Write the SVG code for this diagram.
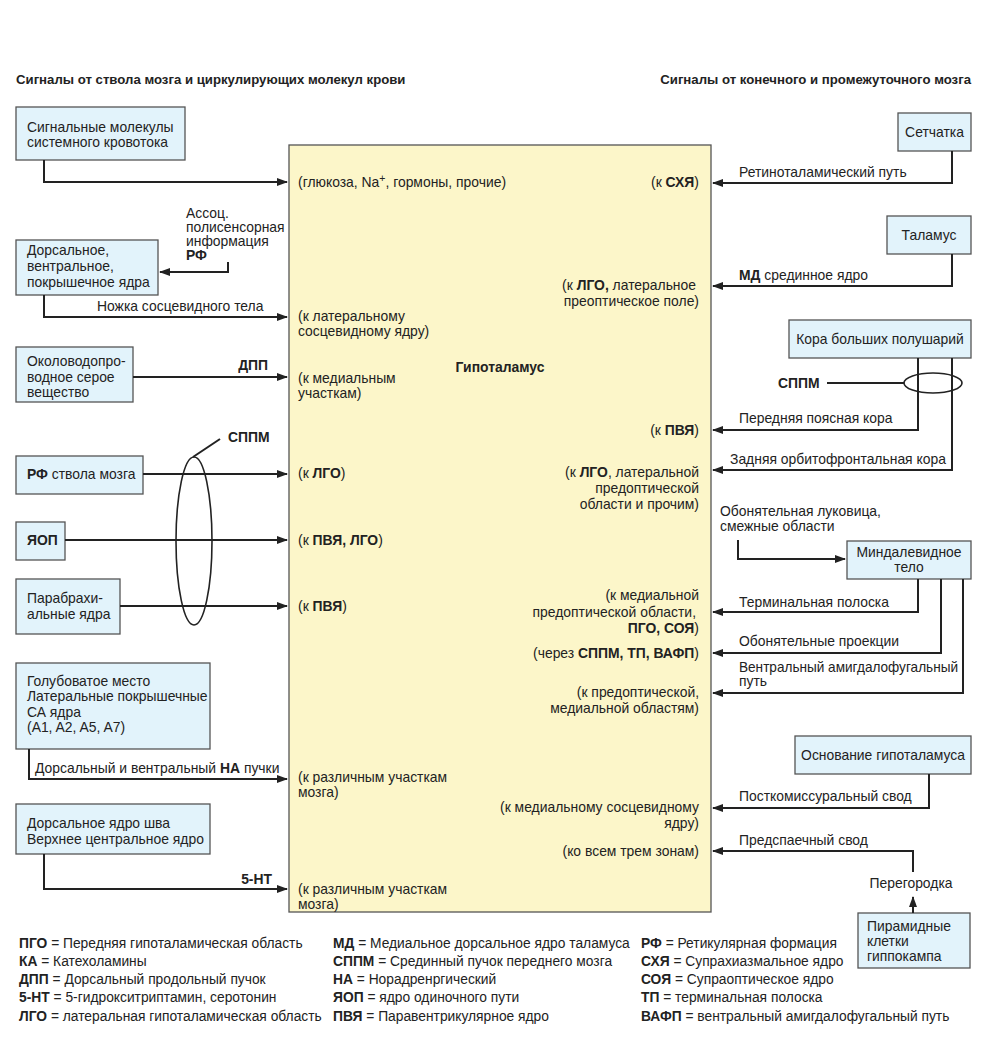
<svg xmlns="http://www.w3.org/2000/svg" width="990" height="1054" viewBox="0 0 990 1054">
<style>
text{font-family:"Liberation Sans","DejaVu Sans",sans-serif;font-size:13.9px;fill:#222}
.b{font-weight:bold}
.h{font-weight:bold;font-size:13.2px}
.e{text-anchor:end}
.m{text-anchor:middle}
.lg{font-size:13.8px}
.box{fill:#e2f3fb;stroke:#555;stroke-width:1.3}
.hyp{fill:#fcf6c9;stroke:#555;stroke-width:1.3}
.c{fill:none;stroke:#222;stroke-width:2}
.ca{fill:none;stroke:#222;stroke-width:2;marker-end:url(#ar)}
.ell{fill:none;stroke:#222;stroke-width:1.6}
</style>
<defs>
<marker id="ar" markerUnits="userSpaceOnUse" markerWidth="11" markerHeight="8" refX="10" refY="4" orient="auto">
<path d="M0,0 L11,4 L0,8 z" fill="#222"/>
</marker>
</defs>
<rect width="990" height="1054" fill="#fff"/>

<text class="h" x="16" y="84">Сигналы от ствола мозга и циркулирующих молекул крови</text>
<text class="h e" x="971" y="84">Сигналы от конечного и промежуточного мозга</text>

<g id="hypothalamus">
<rect class="hyp" x="289" y="145" width="422" height="767"/>
<text class="b m" x="500" y="372">Гипоталамус</text>
<text x="298" y="187">(глюкоза, Na<tspan dy="-5" font-size="10.5">+</tspan><tspan dy="5">, гормоны, прочие)</tspan></text>
<text x="298" y="321">(к латеральному</text>
<text x="298" y="336">сосцевидному ядру)</text>
<text x="298" y="383">(к медиальным</text>
<text x="298" y="398">участкам)</text>
<text x="298" y="478">(к <tspan class="b">ЛГО</tspan>)</text>
<text x="298" y="545">(к <tspan class="b">ПВЯ, ЛГО</tspan>)</text>
<text x="298" y="611">(к <tspan class="b">ПВЯ</tspan>)</text>
<text x="298" y="782">(к различным участкам</text>
<text x="298" y="797">мозга)</text>
<text x="298" y="894">(к различным участкам</text>
<text x="298" y="909">мозга)</text>
<text class="e" x="699" y="187">(к <tspan class="b">СХЯ</tspan>)</text>
<text class="e" x="696" y="290">(к <tspan class="b">ЛГО,</tspan> латеральное</text>
<text class="e" x="699" y="306">преоптическое поле)</text>
<text class="e" x="699" y="435">(к <tspan class="b">ПВЯ</tspan>)</text>
<text class="e" x="699" y="477">(к <tspan class="b">ЛГО</tspan>, латеральной</text>
<text class="e" x="699" y="493">предоптической</text>
<text class="e" x="699" y="509">области и прочим)</text>
<text class="e" x="699" y="600">(к медиальной</text>
<text class="e" x="696" y="617">предоптической области,</text>
<text class="e" x="699" y="633"><tspan class="b">ПГО, СОЯ</tspan>)</text>
<text class="e" x="699" y="658">(через <tspan class="b">СППМ, ТП, ВАФП</tspan>)</text>
<text class="e" x="699" y="697">(к предоптической,</text>
<text class="e" x="699" y="713">медиальной областям)</text>
<text class="e" x="699" y="812">(к медиальному сосцевидному</text>
<text class="e" x="699" y="828">ядру)</text>
<text class="e" x="699" y="856">(ко всем трем зонам)</text>
</g>

<g id="n-blood">
<rect class="box" x="16" y="107" width="169" height="53"/>
<text x="27" y="132">Сигнальные молекулы</text>
<text x="27" y="147">системного кровотока</text>
</g>
<g id="n-tegmental">
<rect class="box" x="16" y="240" width="142" height="55"/>
<text x="27" y="255">Дорсальное,</text>
<text x="27" y="271">вентральное,</text>
<text x="27" y="287">покрышечное ядра</text>
</g>
<g id="n-pag">
<rect class="box" x="16" y="347" width="117" height="55"/>
<text x="27" y="366">Околоводопро-</text>
<text x="27" y="382">водное серое</text>
<text x="27" y="397">вещество</text>
</g>
<g id="n-rf">
<rect class="box" x="16" y="456" width="127" height="38"/>
<text x="27" y="479"><tspan class="b">РФ</tspan> ствола мозга</text>
</g>
<g id="n-yop">
<rect class="box" x="16" y="522" width="49" height="38"/>
<text class="b" x="27" y="545">ЯОП</text>
</g>
<g id="n-parabrachial">
<rect class="box" x="16" y="579" width="104" height="55"/>
<text x="27" y="603">Парабрахи-</text>
<text x="27" y="619">альные ядра</text>
</g>
<g id="n-locus">
<rect class="box" x="16" y="663" width="194" height="86"/>
<text x="27" y="686">Голубоватое место</text>
<text x="27" y="701">Латеральные покрышечные</text>
<text x="27" y="717">СА ядра</text>
<text x="27" y="732">(A1, A2, A5, A7)</text>
</g>
<g id="n-raphe">
<rect class="box" x="16" y="804" width="194" height="50"/>
<text x="27" y="828">Дорсальное ядро шва</text>
<text x="27" y="844">Верхнее центральное ядро</text>
</g>

<g id="n-retina">
<rect class="box" x="898" y="113" width="73" height="38"/>
<text class="m" x="934.5" y="137">Сетчатка</text>
</g>
<g id="n-thalamus">
<rect class="box" x="887" y="216" width="84" height="38"/>
<text class="m" x="929" y="240">Таламус</text>
</g>
<g id="n-cortex">
<rect class="box" x="789" y="320" width="182" height="38"/>
<text class="m" x="880" y="344">Кора больших полушарий</text>
</g>
<g id="n-amygdala">
<rect class="box" x="847" y="541" width="124" height="38"/>
<text class="m" x="909" y="557">Миндалевидное</text>
<text class="m" x="909" y="572">тело</text>
</g>
<g id="n-basal">
<rect class="box" x="795" y="736" width="176" height="38"/>
<text class="m" x="883" y="760">Основание гипоталамуса</text>
</g>
<g id="n-hippocampus">
<rect class="box" x="858" y="913" width="112" height="55"/>
<text x="867" y="931">Пирамидные</text>
<text x="867" y="946">клетки</text>
<text x="867" y="961">гиппокампа</text>
</g>

<g id="connectors">
<path class="ca" d="M44,160 V182 H287"/>
<path class="ca" d="M228,262 V272 H160"/>
<path class="ca" d="M44,295 V317 H287"/>
<path class="ca" d="M133,377 H287"/>
<path class="ca" d="M143,474 H287"/>
<path class="ca" d="M65,540 H287"/>
<path class="ca" d="M120,606 H287"/>
<path class="ca" d="M29,749 V779 H287"/>
<path class="ca" d="M44,854 V889 H287"/>
<ellipse class="ell" cx="194" cy="541" rx="18" ry="84"/>
<path class="c" d="M193,457 L220,439" stroke-width="1.5"/>

<path class="ca" d="M952,151 V183 H713"/>
<path class="ca" d="M952,254 V286 H713"/>
<path class="ca" d="M918,358 V430 H713"/>
<path class="ca" d="M952,358 V470 H713"/>
<ellipse class="ell" cx="933" cy="383" rx="29" ry="10"/>
<path class="c" d="M827,383 H904" stroke-width="1.5"/>
<path class="ca" d="M738,540 V559 H845"/>
<path class="ca" d="M918,579 V612 H713"/>
<path class="ca" d="M941,579 V653 H713"/>
<path class="ca" d="M963,579 V693 H713"/>
<path class="ca" d="M929,774 V808 H713"/>
<path class="ca" d="M913,872 V851 H713"/>
<path class="ca" d="M913,913 V897"/>

<text x="186" y="218">Ассоц.</text>
<text x="186" y="232">полисенсорная</text>
<text x="186" y="246">информация</text>
<text class="b" x="186" y="260">РФ</text>
<text x="97" y="311">Ножка сосцевидного тела</text>
<text class="b e" x="268" y="370">ДПП</text>
<text class="b" x="228" y="442">СППМ</text>
<text x="35" y="773">Дорсальный и вентральный <tspan class="b">НА</tspan> пучки</text>
<text class="b e" x="272" y="884">5-НТ</text>

<text x="739" y="177">Ретиноталамический путь</text>
<text x="739" y="280"><tspan class="b">МД</tspan> срединное ядро</text>
<text class="b" x="778" y="388">СППМ</text>
<text x="739" y="423">Передняя поясная кора</text>
<text x="730" y="464">Задняя орбитофронтальная кора</text>
<text x="720" y="516">Обонятельная луковица,</text>
<text x="720" y="531">смежные области</text>
<text x="739" y="607">Терминальная полоска</text>
<text x="739" y="646">Обонятельные проекции</text>
<text x="739" y="672" textLength="219" lengthAdjust="spacingAndGlyphs">Вентральный амигдалофугальный</text>
<text x="739" y="686">путь</text>
<text x="739" y="801">Посткомиссуральный свод</text>
<text x="739" y="845">Предспаечный свод</text>
<text class="m" x="911" y="888">Перегородка</text>
</g>

<g id="legend">
<text class="lg" x="19" y="948"><tspan class="b">ПГО</tspan> = Передняя гипоталамическая область</text>
<text class="lg" x="19" y="966"><tspan class="b">КА</tspan> = Катехоламины</text>
<text class="lg" x="19" y="984"><tspan class="b">ДПП</tspan> = Дорсальный продольный пучок</text>
<text class="lg" x="19" y="1002"><tspan class="b">5-НТ</tspan> = 5-гидрокситриптамин, серотонин</text>
<text class="lg" x="19" y="1021"><tspan class="b">ЛГО</tspan> = латеральная гипоталамическая область</text>
<text class="lg" x="333" y="948"><tspan class="b">МД</tspan> = Медиальное дорсальное ядро таламуса</text>
<text class="lg" x="333" y="966"><tspan class="b">СППМ</tspan> = Срединный пучок переднего мозга</text>
<text class="lg" x="333" y="984"><tspan class="b">НА</tspan> = Норадренргический</text>
<text class="lg" x="333" y="1002"><tspan class="b">ЯОП</tspan> = ядро одиночного пути</text>
<text class="lg" x="333" y="1021"><tspan class="b">ПВЯ</tspan> = Паравентрикулярное ядро</text>
<text class="lg" x="641" y="948"><tspan class="b">РФ</tspan> = Ретикулярная формация</text>
<text class="lg" x="641" y="966"><tspan class="b">СХЯ</tspan> = Супрахиазмальное ядро</text>
<text class="lg" x="641" y="984"><tspan class="b">СОЯ</tspan> = Супраоптическое ядро</text>
<text class="lg" x="641" y="1002"><tspan class="b">ТП</tspan> = терминальная полоска</text>
<text class="lg" x="641" y="1021"><tspan class="b">ВАФП</tspan> = вентральный амигдалофугальный путь</text>
</g>
</svg>
